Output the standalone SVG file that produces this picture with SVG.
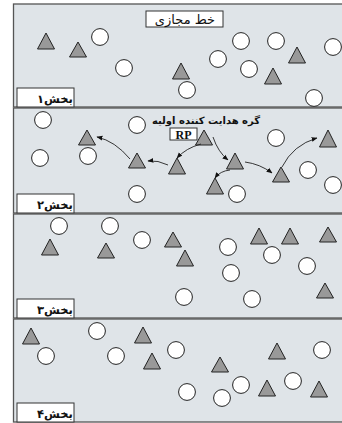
<svg xmlns="http://www.w3.org/2000/svg" width="342" height="423" viewBox="0 0 342 423">
<defs>
<style>
.sec{fill:#dfe4e8;stroke:#555;stroke-width:1.3}
.lbl{fill:#fff;stroke:#333;stroke-width:1}
.lt{font-family:"DejaVu Sans",sans-serif;font-size:11.5px;font-weight:bold;fill:#111;text-anchor:middle}
.c{fill:#fff;stroke:#222;stroke-width:1}
.t{fill:#999;stroke:#222;stroke-width:1}
.ar{fill:none;stroke:#222;stroke-width:0.9;marker-end:url(#ah)}
</style>
<marker id="ah" viewBox="0 0 10 10" refX="9" refY="5" markerWidth="6" markerHeight="6" orient="auto" markerUnits="userSpaceOnUse">
<path d="M0,1 L10,5 L0,9 z" fill="#111"/>
</marker>
</defs>
<rect width="342" height="423" fill="#fff"/>

<g id="section1">
<rect class="sec" x="13.5" y="4" width="340" height="103"/>
<rect class="lbl" x="17" y="88" width="57" height="19"/>
<text class="lt" x="55" y="103">بخش۱</text>
</g>
<g id="section2">
<rect class="sec" x="13.5" y="108" width="340" height="105"/>
<rect class="lbl" x="17" y="194" width="57" height="19"/>
<text class="lt" x="55" y="209">بخش۲</text>
</g>
<g id="section3">
<rect class="sec" x="13.5" y="214" width="340" height="104"/>
<rect class="lbl" x="17" y="299" width="57" height="19"/>
<text class="lt" x="55" y="314">بخش۳</text>
</g>
<g id="section4">
<rect class="sec" x="13.5" y="319" width="340" height="103"/>
<rect class="lbl" x="17" y="403" width="57" height="19"/>
<text class="lt" x="55" y="418">بخش۴</text>
</g>

<g id="title">
<rect class="lbl" x="146" y="11" width="77" height="16"/>
<text x="185" y="23.5" font-family="DejaVu Sans,sans-serif" font-size="13" text-anchor="middle" fill="#111">خط مجازی</text>
</g>

<g id="nodes1">
<polygon class="t" points="46,33 54.5,49 37.5,49"/>
<polygon class="t" points="78,42 86.5,57 69.5,57"/>
<polygon class="t" points="181,63 189.5,79 172.5,79"/>
<polygon class="t" points="297,47 305.5,63 288.5,63"/>
<polygon class="t" points="273,68 281.5,84 264.5,84"/>
<circle class="c" cx="100" cy="37" r="8.4"/>
<circle class="c" cx="124" cy="68" r="8.4"/>
<circle class="c" cx="187" cy="90" r="8.4"/>
<circle class="c" cx="218" cy="59" r="8.4"/>
<circle class="c" cx="241" cy="41" r="8.4"/>
<circle class="c" cx="276" cy="41" r="8.4"/>
<circle class="c" cx="249" cy="69" r="8.4"/>
<circle class="c" cx="333" cy="47" r="8.4"/>
<circle class="c" cx="314" cy="98" r="8.4"/>
</g>

<g id="nodes2">
<circle class="c" cx="43" cy="120" r="8.4"/>
<circle class="c" cx="40" cy="158" r="8.4"/>
<circle class="c" cx="88" cy="156" r="8.4"/>
<circle class="c" cx="137" cy="125" r="8.4"/>
<circle class="c" cx="137" cy="194" r="8.4"/>
<circle class="c" cx="276" cy="138" r="8.4"/>
<circle class="c" cx="308" cy="170" r="8.4"/>
<circle class="c" cx="333" cy="185" r="8.4"/>
<circle class="c" cx="237" cy="194" r="8.4"/>
<polygon class="t" points="87,130 95.5,145 78.5,145"/>
<polygon class="t" points="137,153 145.5,168 128.5,168"/>
<polygon class="t" points="177,158 185.5,174 168.5,174"/>
<g id="rp-node">
<polygon class="t" points="204,130 212.5,145 195.5,145"/>
<rect class="lbl" x="170" y="128" width="27" height="12"/>
<text x="183.5" y="138.5" font-family="Liberation Serif,serif" font-size="12" font-weight="bold" text-anchor="middle" fill="#111">RP</text>
<text x="206" y="124" font-family="DejaVu Sans,sans-serif" font-size="10" font-weight="bold" text-anchor="middle" fill="#111">گره هدایت کننده اولیه</text>
</g>
<polygon class="t" points="235,153 243.5,169 226.5,169"/>
<polygon class="t" points="215,178 223.5,194 206.5,194"/>
<polygon class="t" points="281,167 289.5,182 272.5,182"/>
<polygon class="t" points="328,130 336.5,147 319.5,147"/>
</g>

<g id="connectors">
<path class="ar" d="M213,137 Q218,152 228,160"/>
<path class="ar" d="M201,144 Q186,148 177,158"/>
<path class="ar" d="M168,165 Q158,160 148,161"/>
<path class="ar" d="M130,159 Q115,141 97,137"/>
<path class="ar" d="M230,170 Q220,171 215,178"/>
<path class="ar" d="M245,162 Q260,164 272,173"/>
<path class="ar" d="M282,167 Q293,145 317,138"/>
</g>

<g id="nodes3">
<circle class="c" cx="59" cy="226" r="8.4"/>
<circle class="c" cx="110" cy="226" r="8.4"/>
<circle class="c" cx="142" cy="240" r="8.4"/>
<circle class="c" cx="228" cy="247" r="8.4"/>
<circle class="c" cx="272" cy="255" r="8.4"/>
<circle class="c" cx="231" cy="273" r="8.4"/>
<circle class="c" cx="307" cy="266" r="8.4"/>
<circle class="c" cx="184" cy="297" r="8.4"/>
<circle class="c" cx="252" cy="299" r="8.4"/>
<polygon class="t" points="50,239 58.5,255 41.5,255"/>
<polygon class="t" points="106,243 114.5,258 97.5,258"/>
<polygon class="t" points="173,232 181.5,247 164.5,247"/>
<polygon class="t" points="185,250 193.5,266 176.5,266"/>
<polygon class="t" points="259,228 267.5,244 250.5,244"/>
<polygon class="t" points="290,228 298.5,244 281.5,244"/>
<polygon class="t" points="328,227 336.5,242 319.5,242"/>
<polygon class="t" points="325,283 333.5,298 316.5,298"/>
</g>

<g id="nodes4">
<polygon class="t" points="31,328 39.5,344 22.5,344"/>
<polygon class="t" points="143,327 151.5,343 134.5,343"/>
<polygon class="t" points="152,353 160.5,369 143.5,369"/>
<polygon class="t" points="220,357 228.5,372 211.5,372"/>
<polygon class="t" points="277,343 285.5,359 268.5,359"/>
<polygon class="t" points="267,380 275.5,396 258.5,396"/>
<polygon class="t" points="319,381 327.5,397 310.5,397"/>
<circle class="c" cx="97" cy="331" r="8.4"/>
<circle class="c" cx="46" cy="356" r="8.4"/>
<circle class="c" cx="116" cy="356" r="8.4"/>
<circle class="c" cx="176" cy="350" r="8.4"/>
<circle class="c" cx="322" cy="350" r="8.4"/>
<circle class="c" cx="187" cy="392" r="8.4"/>
<circle class="c" cx="222" cy="398" r="8.4"/>
<circle class="c" cx="241" cy="385" r="8.4"/>
<circle class="c" cx="293" cy="381" r="8.4"/>
</g>
</svg>
